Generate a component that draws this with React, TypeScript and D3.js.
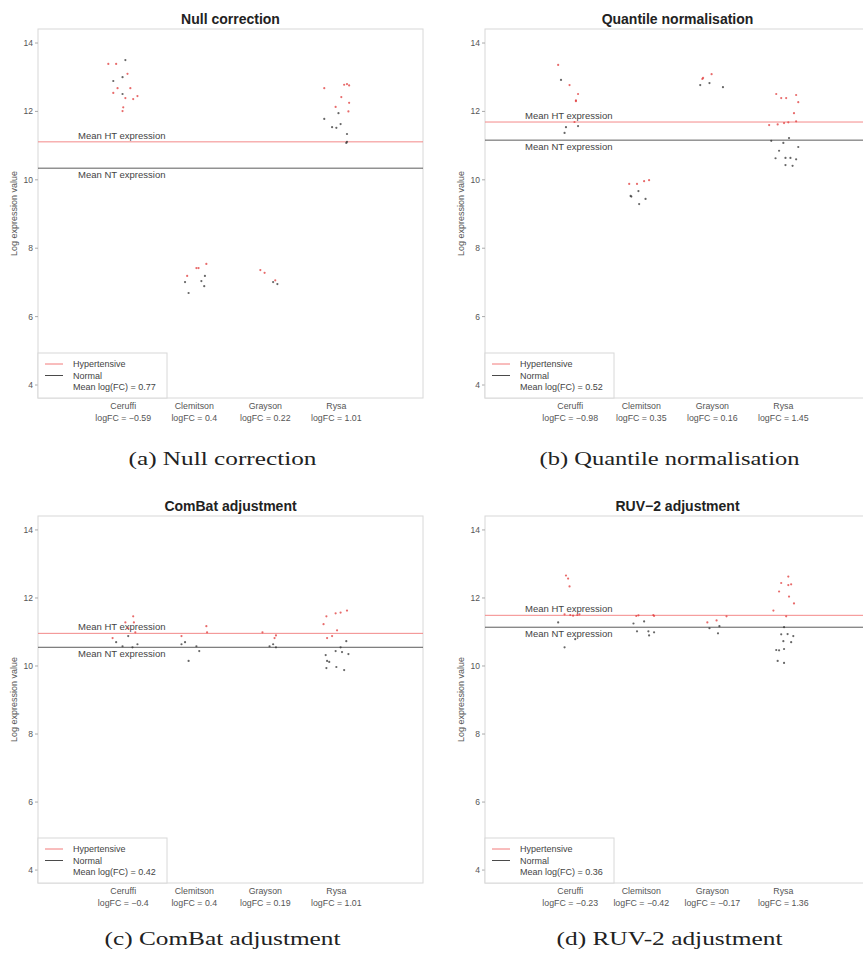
import React from 'react';
import * as d3 from 'd3';

const W = 863, H = 954;

const studies = ['Ceruffi', 'Clemitson', 'Grayson', 'Rysa'];
const yTicks = [4, 6, 8, 10, 12, 14];
const legendLabels = ['Hypertensive', 'Normal'];

// [study, jitter (in category units), log expression, group H=hypertensive N=normal]
type Pt = [number, number, number, string];

const nullPts: Pt[] = [
  [0,-0.21,13.39,'H'],[0,-0.10,13.39,'H'],[0,0.03,13.5,'N'],[0,0.06,13.1,'H'],[0,-0.14,12.89,'N'],[0,-0.01,13.0,'N'],
  [0,-0.08,12.68,'H'],[0,0.10,12.68,'H'],[0,-0.14,12.54,'H'],[0,-0.01,12.51,'N'],[0,0.03,12.39,'H'],[0,0.14,12.36,'H'],
  [0,0.20,12.45,'H'],[0,0.0,12.12,'H'],[0,-0.01,12.01,'H'],
  [1,0.03,7.42,'H'],[1,0.06,7.42,'H'],[1,0.17,7.54,'H'],[1,-0.10,7.19,'H'],[1,0.15,7.19,'N'],[1,-0.13,7.01,'N'],
  [1,0.10,7.04,'N'],[1,0.14,6.89,'N'],[1,-0.08,6.69,'N'],
  [2,-0.07,7.36,'H'],[2,-0.01,7.28,'H'],[2,0.14,7.06,'H'],[2,0.11,7.01,'N'],[2,0.17,6.95,'N'],
  [3,-0.17,12.68,'H'],[3,0.15,12.8,'H'],[3,0.18,12.76,'H'],[3,0.11,12.78,'H'],[3,0.07,12.42,'H'],[3,0.18,12.25,'H'],
  [3,-0.01,12.13,'H'],[3,0.17,12.0,'H'],[3,0.03,11.95,'N'],[3,-0.17,11.78,'N'],[3,0.06,11.63,'N'],[3,-0.06,11.54,'N'],
  [3,0,11.52,'N'],[3,0.15,11.34,'N'],[3,0.15,11.11,'N'],[3,0.14,11.08,'N'],
];
const nullMeans = [11.11, 10.34];
const nullLogFC = ['\u22120.59', '0.4', '0.22', '1.01'];
const nullMeanFC = '0.77';

const quantPts: Pt[] = [
  [0,-0.17,13.36,'H'],[0,-0.13,12.92,'N'],[0,-0.01,12.77,'H'],[0,0.11,12.51,'H'],[0,0.08,12.30,'H'],[0,0.08,12.32,'H'],
  [0,0.06,11.69,'H'],[0,-0.06,11.54,'N'],[0,0.11,11.57,'N'],[0,-0.08,11.37,'N'],
  [1,-0.17,9.88,'H'],[1,-0.06,9.88,'H'],[1,0.04,9.96,'H'],[1,0.11,9.99,'H'],[1,-0.15,9.53,'N'],[1,-0.14,9.51,'N'],
  [1,-0.04,9.67,'N'],[1,0.06,9.44,'N'],[1,-0.03,9.29,'N'],
  [2,-0.13,12.98,'H'],[2,-0.14,12.95,'H'],[2,-0.01,13.09,'H'],[2,-0.17,12.77,'N'],[2,-0.04,12.83,'N'],[2,0.15,12.71,'N'],
  [3,-0.10,12.51,'H'],[3,-0.03,12.39,'H'],[3,0.04,12.39,'H'],[3,0.18,12.48,'H'],[3,0.21,12.27,'H'],[3,0.15,11.95,'H'],
  [3,-0.20,11.60,'H'],[3,-0.08,11.62,'H'],[3,0.01,11.66,'H'],[3,0.07,11.68,'H'],[3,0.18,11.71,'H'],
  [3,-0.17,11.14,'N'],[3,0.08,11.22,'N'],[3,0,11.08,'N'],[3,0.21,10.96,'N'],[3,-0.06,10.85,'N'],[3,-0.11,10.63,'N'],
  [3,0.03,10.64,'N'],[3,0.10,10.64,'N'],[3,0.18,10.60,'N'],[3,0.03,10.43,'N'],[3,0.13,10.41,'N'],
];
const quantMeans = [11.69, 11.16];
const quantLogFC = ['\u22120.98', '0.35', '0.16', '1.45'];
const quantMeanFC = '0.52';

const combatPts: Pt[] = [
  [0,0.14,11.46,'H'],[0,0.15,11.28,'H'],[0,0.03,11.28,'H'],[0,0.07,11.11,'H'],[0,0.17,10.99,'H'],[0,-0.15,10.82,'H'],
  [0,0.07,10.88,'N'],[0,-0.10,10.70,'N'],[0,0.20,10.64,'N'],[0,-0.01,10.58,'N'],[0,0.13,10.55,'N'],
  [1,0.17,11.17,'H'],[1,0.18,10.99,'H'],[1,-0.18,10.88,'H'],[1,-0.13,10.70,'N'],[1,-0.18,10.64,'N'],[1,0.03,10.58,'N'],
  [1,0.07,10.44,'N'],[1,-0.08,10.15,'N'],
  [2,-0.04,10.99,'H'],[2,0.15,10.90,'H'],[2,0.13,10.82,'H'],[2,0.06,10.58,'N'],[2,0.11,10.64,'N'],[2,0.15,10.55,'N'],
  [3,0.15,11.63,'H'],[3,0.06,11.57,'H'],[3,-0.01,11.55,'H'],[3,-0.14,11.46,'H'],[3,-0.18,11.23,'H'],[3,0.01,11.05,'H'],
  [3,-0.06,10.88,'H'],[3,-0.13,10.82,'H'],[3,0.14,10.73,'N'],[3,0.06,10.55,'N'],[3,-0.01,10.44,'N'],[3,0.08,10.41,'N'],
  [3,0.17,10.35,'N'],[3,-0.15,10.32,'N'],[3,-0.13,10.15,'N'],[3,-0.10,10.12,'N'],[3,-0.14,9.94,'N'],[3,0,9.97,'N'],
  [3,0.11,9.88,'N'],
];
const combatMeans = [10.96, 10.55];
const combatLogFC = ['\u22120.4', '0.4', '0.19', '1.01'];
const combatMeanFC = '0.42';

const ruvPts: Pt[] = [
  [0,-0.06,12.66,'H'],[0,-0.03,12.57,'H'],[0,-0.01,12.34,'H'],[0,-0.08,11.52,'H'],[0,0,11.50,'H'],[0,0.04,11.48,'H'],
  [0,0.10,11.50,'H'],[0,0.13,11.52,'H'],[0,-0.17,11.28,'N'],[0,0.07,10.79,'N'],[0,-0.08,10.55,'N'],
  [1,-0.07,11.47,'H'],[1,-0.04,11.49,'H'],[1,0.17,11.50,'H'],[1,0.18,11.47,'H'],[1,0.04,11.31,'N'],[1,-0.11,11.25,'N'],
  [1,-0.06,11.02,'N'],[1,0.10,11.02,'N'],[1,0.18,10.99,'N'],[1,0.11,10.90,'N'],
  [2,0.20,11.46,'H'],[2,-0.07,11.28,'H'],[2,0.06,11.34,'H'],[2,0.10,11.17,'N'],[2,-0.04,11.11,'N'],[2,0.08,10.96,'N'],
  [3,0.07,12.63,'H'],[3,-0.03,12.44,'H'],[3,0.07,12.38,'H'],[3,0.11,12.40,'H'],[3,-0.06,12.19,'H'],[3,0.08,12.04,'H'],
  [3,0.15,11.84,'H'],[3,-0.14,11.63,'H'],[3,0.04,11.46,'H'],[3,0.01,11.14,'N'],[3,-0.03,10.93,'N'],[3,0.06,10.94,'N'],
  [3,0.14,10.88,'N'],[3,0,10.73,'N'],[3,0.11,10.70,'N'],[3,-0.10,10.47,'N'],[3,-0.06,10.46,'N'],[3,0.01,10.50,'N'],
  [3,-0.08,10.15,'N'],[3,0.01,10.09,'N'],
];
const ruvMeans = [11.49, 11.14];
const ruvLogFC = ['\u22120.23', '\u22120.42', '\u22120.17', '1.36'];
const ruvMeanFC = '0.36';

const RED = '#f27a7a', DARK = '#4a4a4a', TXT = '#555';
const SANS = '"Liberation Sans", Arial, sans-serif';
const SERIF = '"Liberation Serif", "DejaVu Serif", serif';

function Panel({ left, top, ph, title, caption, capW, capY, pts, means, logfc, meanFC }: any) {
  const pw = 385;
  const x = d3.scaleLinear().domain([-1.2, 4.22]).range([left, left + pw]);
  const y = d3.scaleLinear().domain([3.62, 14.41]).range([top + ph, top]);
  const cx = left + pw / 2;
  const lgH = 45, lgW = 129;

  return (
    <g fontFamily={SANS}>
      <text x={cx} y={top - 5} textAnchor="middle" fontWeight="bold" fontSize={14} fill="#222">{title}</text>
      <rect x={left} y={top} width={pw} height={ph} fill="none" stroke="#d8d8d8" />
      {yTicks.map(t => (
        <g key={t}>
          <line x1={left - 3} x2={left} y1={y(t)} y2={y(t)} stroke="#aaa" />
          <text x={left - 5} y={y(t) + 3} textAnchor="end" fontSize={8.5} fill={TXT}>{t}</text>
        </g>
      ))}
      <text transform={`translate(${left - 21},${top + ph / 2}) rotate(-90)`} textAnchor="middle" fontSize={9} fill={TXT}>
        Log expression value
      </text>
      <line x1={left} x2={left + pw} y1={y(means[0])} y2={y(means[0])} stroke={RED} strokeWidth={0.9} />
      <line x1={left} x2={left + pw} y1={y(means[1])} y2={y(means[1])} stroke={DARK} strokeWidth={0.9} />
      <text x={left + 40} y={y(means[0]) - 3} fontSize={9.5} fill="#444">Mean HT expression</text>
      <text x={left + 40} y={y(means[1]) + 10} fontSize={9.5} fill="#444">Mean NT expression</text>
      {pts.map((p: Pt, i: number) => (
        <circle key={i} cx={x(p[0] + p[1])} cy={y(p[2])} r={1.1}
          fill={p[3] === 'H' ? '#e03a3a' : '#333'} opacity={0.75} />
      ))}
      {studies.map((s, i) => (
        <g key={s}>
          <text x={x(i)} y={top + ph + 11} textAnchor="middle" fontSize={8.8} fill={TXT}>{s}</text>
          <text x={x(i)} y={top + ph + 23} textAnchor="middle" fontSize={8.8} fill={TXT}>{`logFC = ${logfc[i]}`}</text>
        </g>
      ))}
      <rect x={left} y={top + ph - lgH} width={lgW} height={lgH} fill="white" stroke="#d8d8d8" />
      {legendLabels.map((l, i) => (
        <g key={l}>
          <line x1={left + 7} x2={left + 25} y1={top + ph - 34 + i * 11.5} y2={top + ph - 34 + i * 11.5}
            stroke={i === 0 ? RED : DARK} />
          <text x={left + 35} y={top + ph - 31 + i * 11.5} fontSize={9} fill="#444">{l}</text>
        </g>
      ))}
      <text x={left + 35} y={top + ph - 8} fontSize={9} fill="#444">{`Mean log(FC) = ${meanFC}`}</text>
      <text x={cx - 8} y={capY} textAnchor="middle" fontFamily={SERIF} fontSize={18}
        textLength={capW} lengthAdjust="spacingAndGlyphs" fill="#222">{caption}</text>
    </g>
  );
}

export default function App() {
  return (
    <svg width={W} height={H} style={{ position: 'absolute', left: 0, top: 0, background: 'white' }}>
      <rect width={W} height={H} fill="white" />
      <Panel left={38} top={29} ph={369} capY={465} title="Null correction" caption="(a)  Null correction" capW={188}
        pts={nullPts} means={nullMeans} logfc={nullLogFC} meanFC={nullMeanFC} />
      <Panel left={485} top={29} ph={369} capY={465} title="Quantile normalisation" caption="(b)  Quantile normalisation" capW={260}
        pts={quantPts} means={quantMeans} logfc={quantLogFC} meanFC={quantMeanFC} />
      <Panel left={38} top={516} ph={367} capY={945} title="ComBat adjustment" caption="(c)  ComBat adjustment" capW={236}
        pts={combatPts} means={combatMeans} logfc={combatLogFC} meanFC={combatMeanFC} />
      <Panel left={485} top={516} ph={367} capY={945} title={'RUV\u22122 adjustment'} caption="(d)  RUV-2 adjustment" capW={226}
        pts={ruvPts} means={ruvMeans} logfc={ruvLogFC} meanFC={ruvMeanFC} />
    </svg>
  );
}
